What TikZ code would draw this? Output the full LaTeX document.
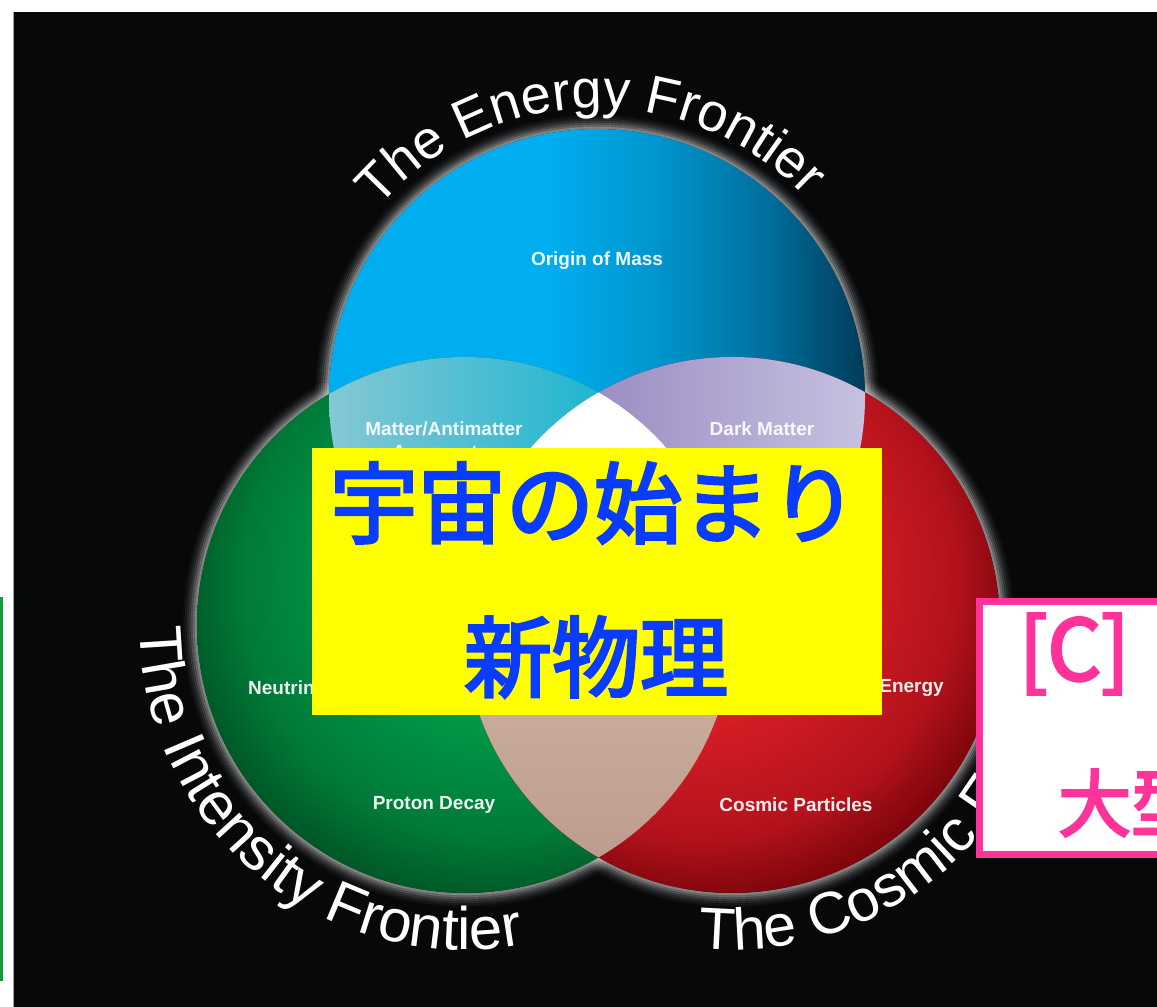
\documentclass[tikz,border=0pt]{standalone}
\usepackage{fontspec}
\setmainfont{Liberation Sans}
\newfontfamily\cjkyb[FakeBold=3.3]{Noto Sans CJK JP}
\newfontfamily\cjkpb[FakeBold=3.5]{Noto Sans CJK JP}
\usetikzlibrary{decorations.text}
\definecolor{bgc}{HTML}{07080A}
\definecolor{bl1}{HTML}{00ADEE}
\definecolor{blm}{HTML}{0094CC}
\definecolor{bl2}{HTML}{006E9C}
\definecolor{bl3}{HTML}{003B58}
\definecolor{gr1}{HTML}{009A4A}
\definecolor{gr2}{HTML}{007A38}
\definecolor{gr3}{HTML}{004A1E}
\definecolor{rd1}{HTML}{D81E26}
\definecolor{rd2}{HTML}{B3121B}
\definecolor{rd3}{HTML}{6A0005}
\definecolor{bgL}{HTML}{86C8D4}
\definecolor{bgR}{HTML}{1EB5D0}
\definecolor{brL}{HTML}{9A8DC3}
\definecolor{brR}{HTML}{C8C2E0}
\definecolor{tanT}{HTML}{E4CCB8}
\definecolor{tanB}{HTML}{BC9C8E}
\definecolor{yellowc}{HTML}{FFFF00}
\definecolor{jblue}{HTML}{0A3CFF}
\definecolor{pinkc}{HTML}{FF3399}
\definecolor{greenline}{HTML}{139A3A}
\definecolor{haloc}{HTML}{CFCFCF}
\pgfdeclarehorizontalshading{bluesh}{100bp}{color(0bp)=(bl1); color(25bp)=(bl1); color(46bp)=(bl1); color(56bp)=(blm); color(66bp)=(bl2); color(75bp)=(bl3); color(100bp)=(bl3)}
\pgfdeclareradialshading{greensh}{\pgfpoint{6bp}{8bp}}{color(0bp)=(gr1); color(14bp)=(gr1); color(24bp)=(gr2); color(31bp)=(gr3); color(50bp)=(gr3)}
\pgfdeclareradialshading{redsh}{\pgfpoint{-6bp}{8bp}}{color(0bp)=(rd1); color(14bp)=(rd1); color(24bp)=(rd2); color(31bp)=(rd3); color(50bp)=(rd3)}
\tikzset{
  lbl/.style={font=\fontsize{19}{19}\selectfont\bfseries, text=white, text opacity=0.92, inner sep=0},
  jtext/.style={font=\cjkyb\fontsize{88}{88}\selectfont, text=jblue, inner sep=0},
  ptext/.style={font=\cjkpb\fontsize{84}{84}\selectfont, text=pinkc, inner sep=0, anchor=west},
  ptextb/.style={font=\cjkpb\fontsize{73}{73}\selectfont, text=pinkc, inner sep=0, anchor=west},
  halo/.style={draw=haloc, line width=2.2pt}
}
\begin{document}
\begin{tikzpicture}[x=1pt,y=1pt]
\useasboundingbox (0,0) rectangle (1157,1007);
\clip (0,0) rectangle (1157,1007);
\fill[white] (0,0) rectangle (1157,1007);
\fill[bgc] (13,0) rectangle (1157,995);
\draw[gray!70, line width=1pt] (13.5,0) -- (13.5,995);
\fill[greenline] (0,26) rectangle (3,410);

\coordinate (cb) at (597,610);
\coordinate (cg) at (465,382);
\coordinate (cr) at (732,382);

% halos
\foreach \c in {cb,cg,cr}{
  \foreach \r/\o in {269/0.6,271/0.45,273/0.33,275/0.22,277/0.14,279/0.08,281/0.04}{
    \draw[halo, opacity=\o] (\c) circle[radius=\r pt];
  }
}

% circles
\shade[shading=bluesh] (cb) circle[radius=268pt];
\shade[shading=greensh] (cg) circle[radius=268pt];
\shade[shading=redsh] (cr) circle[radius=268pt];

% lenses
\begin{scope}
  \clip (cb) circle[radius=268pt];
  \clip (cg) circle[radius=268pt];
  \shade[left color=bgL, right color=bgR] (325,338) rectangle (605,655);
\end{scope}
\begin{scope}
  \clip (cb) circle[radius=268pt];
  \clip (cr) circle[radius=268pt];
  \shade[left color=brL, right color=brR] (592,338) rectangle (870,655);
\end{scope}
\begin{scope}
  \clip (cg) circle[radius=268pt];
  \clip (cr) circle[radius=268pt];
  \shade[top color=tanT, bottom color=tanB] (460,148) rectangle (737,616);
\end{scope}
\begin{scope}
  \clip (cb) circle[radius=268pt];
  \clip (cg) circle[radius=268pt];
  \fill[white] (cr) circle[radius=268pt];
\end{scope}

% labels inside circles
\node[lbl] (om) at (597,746) {Origin of Mass};
\node[lbl] (ma) at (444,578) {Matter/Antimatter};
\node[lbl] (as) at (444,553) {Asymmetry};
\node[lbl] (dm) at (762,578) {Dark Matter};
\node[lbl, anchor=west] (nu) at (248,319) {Neutrinos};
\node[lbl, anchor=east] (de) at (944,319) {Dark Energy};
\node[lbl] (pd) at (434,202) {Proton Decay};
\node[lbl] (cp) at (796,202) {Cosmic Particles};

% frontier texts
\path[decorate, decoration={text along path, text color=white,
  text={|\fontsize{54}{54}\selectfont|The Energy Frontier}}]
  (cb) ++(139:289pt) arc[start angle=139, end angle=20, radius=289pt];
\path[decorate, decoration={text along path, text color=white,
  text={|\fontsize{60}{60}\selectfont|The Intensity Frontier}}]
  (cg) ++(180.5:325pt) arc[start angle=180.5, end angle=300, radius=325pt];
\path[decorate, decoration={text along path, text color=white,
  text={|\fontsize{59}{59}\selectfont|The Cosmic Frontier}}]
  (cr) ++(264:325pt) arc[start angle=264, end angle=380, radius=325pt];

% yellow box
\node[fill=yellowc, minimum width=570pt, minimum height=267pt, inner sep=0, outer sep=0] (yb) at (597,425.5) {};
\node[jtext] (t1) at (594,504) {宇宙の始まり};
\node[jtext] (t2) at (596,350) {新物理};

% pink box
\node[draw=pinkc, line width=7pt, fill=white, minimum width=300pt, minimum height=253pt, inner sep=0, outer sep=0, anchor=south west] (pb) at (979.5,152.5) {};
\node[ptext] (pc) at (1019,353) {[C]};
\node[ptextb] (pt) at (1058,204) {大型};
\end{tikzpicture}
\end{document}
